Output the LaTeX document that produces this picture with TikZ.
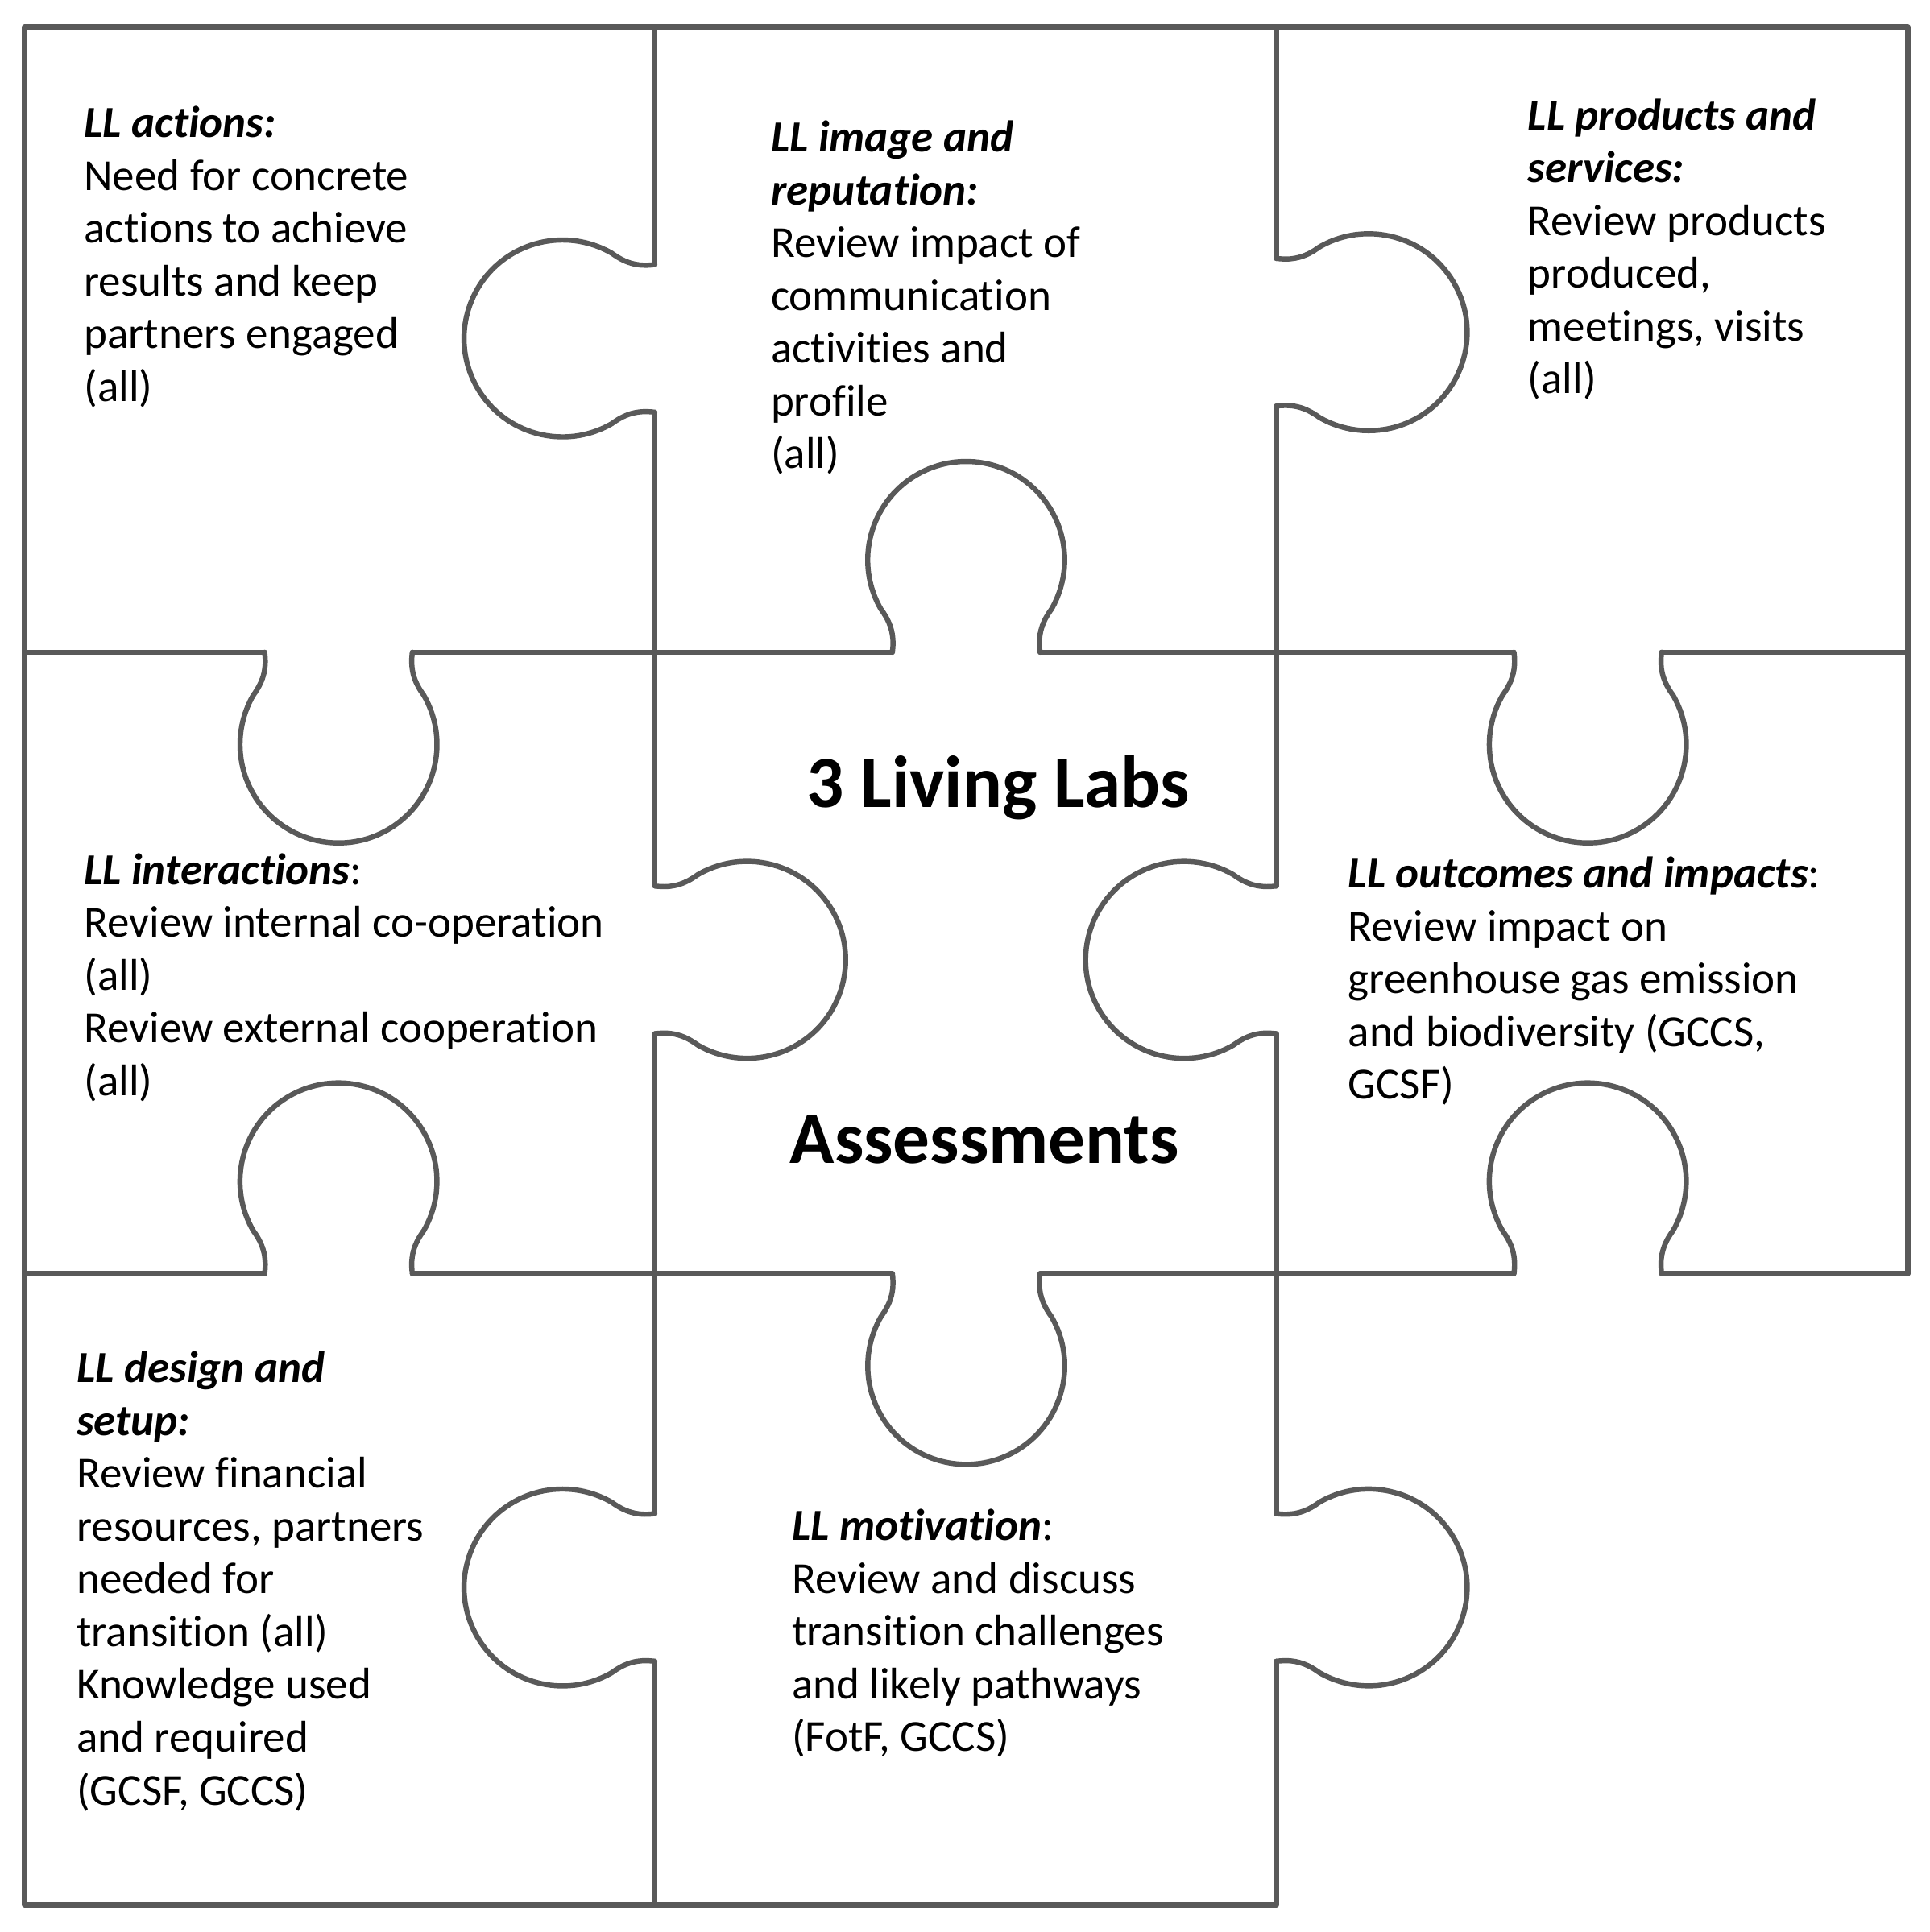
\documentclass[tikz,border=0pt]{standalone}
\usepackage{fontspec}
\setmainfont{Carlito}[Ligatures=NoCommon]
\begin{document}
\begin{tikzpicture}[x=0.02cm,y=0.02cm,
  pz/.style={draw=black!65,line width=2.4pt,line cap=round,line join=round},
  knob/.pic={\draw[pz] (-60,0) .. controls (-58,15) and (-62,25) .. (-69.3,35) arc[start angle=210,end angle=-30,radius=80] .. controls (62,25) and (58,15) .. (60,0);},
  txt/.style={anchor=north west,inner sep=0pt,align=left,font=\fontsize{20.5}{24.4}\selectfont},
  big/.style={inner sep=0pt,font=\fontsize{34}{40}\selectfont\bfseries}]
\useasboundingbox (0,0) rectangle (1568,-1570);
% outer frame
\draw[pz] (1037,-1548) -- (20,-1548) -- (20,-22) -- (1550,-22) -- (1550,-1035);
% vertical lines
\draw[pz] (532,-22) -- (532,-215) (532,-335) -- (532,-720) (532,-840) -- (532,-1230) (532,-1350) -- (532,-1548);
\draw[pz] (1037,-22) -- (1037,-210) (1037,-330) -- (1037,-720) (1037,-840) -- (1037,-1230) (1037,-1350) -- (1037,-1548);
% horizontal lines
\draw[pz] (20,-530) -- (215,-530) (335,-530) -- (725,-530) (845,-530) -- (1230,-530) (1350,-530) -- (1550,-530);
\draw[pz] (20,-1035) -- (215,-1035) (335,-1035) -- (725,-1035) (845,-1035) -- (1230,-1035) (1350,-1035) -- (1550,-1035);
% knobs
\pic[rotate=90] at (532,-275) {knob};
\pic[rotate=-90] at (532,-780) {knob};
\pic[rotate=90] at (532,-1290) {knob};
\pic[rotate=-90] at (1037,-270) {knob};
\pic[rotate=90] at (1037,-780) {knob};
\pic[rotate=-90] at (1037,-1290) {knob};
\pic[rotate=180] at (275,-530) {knob};
\pic[rotate=0] at (785,-530) {knob};
\pic[rotate=180] at (1290,-530) {knob};
\pic[rotate=0] at (275,-1035) {knob};
\pic[rotate=180] at (785,-1035) {knob};
\pic[rotate=0] at (1290,-1035) {knob};
% texts
\node[txt] (t1) at (68,-86) {\textbf{\textit{LL actions:}}\\Need for concrete\\actions to achieve\\results and keep\\partners engaged\\(all)};
\node[txt] (t2) at (626,-98) {\textbf{\textit{LL image and}}\\\textbf{\textit{reputation:}}\\Review impact of\\communication\\activities and\\profile\\(all)};
\node[txt] (t3) at (1241,-80) {\textbf{\textit{LL products and}}\\\textbf{\textit{services:}}\\Review products\\produced,\\meetings, visits\\(all)};
\node[txt] (t4) at (68,-693) {\textbf{\textit{LL interactions}}:\\Review internal co-operation\\(all)\\Review external cooperation\\(all)};
\node[txt] (t5) at (1095,-696) {\textbf{\textit{LL outcomes and impacts}}:\\Review impact on\\greenhouse gas emission\\and biodiversity (GCCS,\\GCSF)};
\node[txt] (t6) at (62,-1098) {\textbf{\textit{LL design and}}\\\textbf{\textit{setup:}}\\Review financial\\resources, partners\\needed for\\transition (all)\\Knowledge used\\and required\\(GCSF, GCCS)};
\node[txt] (t7) at (643,-1226) {\textbf{\textit{LL motivation}}:\\Review and discuss\\transition challenges\\and likely pathways\\(FotF, GCCS)};
\node[big] (c1) at (811,-640) {3 Living Labs};
\node[big] (c2) at (800,-926) {Assessments};
\end{tikzpicture}
\end{document}
